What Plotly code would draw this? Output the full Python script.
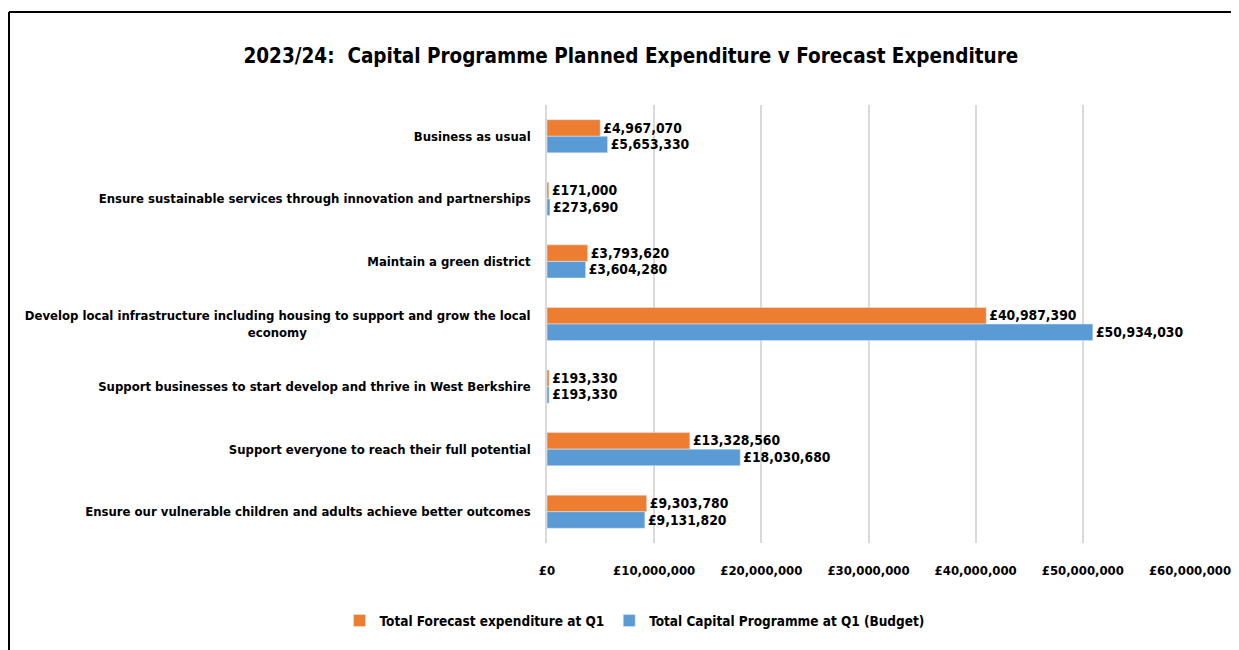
import plotly.graph_objects as go

categories = [
    "Business as usual",
    "Ensure sustainable services through innovation and partnerships",
    "Maintain a green district",
    "Develop local infrastructure including housing to support and grow the local<br>economy"
    + "\u00a0" * 55,
    "Support businesses to start develop and thrive in West Berkshire",
    "Support everyone to reach their full potential",
    "Ensure our vulnerable children and adults achieve better outcomes",
]
forecast = [4967070, 171000, 3793620, 40987390, 193330, 13328560, 9303780]
budget = [5653330, 273690, 3604280, 50934030, 193330, 18030680, 9131820]
series_names = ["Total Forecast expenditure at Q1", "Total Capital Programme at Q1 (Budget)"]
x_ticks = [0, 10000000, 20000000, 30000000, 40000000, 50000000, 60000000]
x_tick_labels = ["£0", "£10,000,000", "£20,000,000", "£30,000,000", "£40,000,000",
                 "£50,000,000", "£60,000,000"]

FONT = "DejaVu Sans Condensed, sans-serif"

fig = go.Figure()
for vals, name, col in [(forecast, series_names[0], "#ED7D31"), (budget, series_names[1], "#5B9BD5")]:
    fig.add_trace(go.Bar(
        y=categories, x=vals, orientation="h", name=name,
        marker_color=col, texttemplate="£%{x:,}", textposition="outside",
        textfont=dict(family=FONT, size=15, color="black", weight="bold"), cliponaxis=False,
    ))

# page body adds an 8px offset; figure sized to fit the window
W, H = 1231, 642
L, T = 539, 97
pw, ph = 643, 438
R, B = W - L - pw, H - T - ph
fx = (1 - L) / pw
fy = (H - B - 4) / ph

fig.update_layout(
    width=W, height=H,
    margin=dict(l=L, r=R, t=T, b=B, autoexpand=False),
    paper_bgcolor="white", plot_bgcolor="white",
    barmode="group", bargap=0.47, bargroupgap=0,
    font=dict(family=FONT, color="black", size=13),
    title=dict(text="<b>2023/24:  Capital Programme Planned Expenditure v Forecast Expenditure</b>",
               x=0.506, xref="container", xanchor="center", y=0.926, yref="container",
               yanchor="middle", font=dict(family=FONT, size=20.5, color="black")),
    legend=dict(orientation="h", x=0.509, xref="container", xanchor="center",
                y=0.0455, yref="container", yanchor="middle",
                font=dict(family=FONT, size=13.5, color="black", weight="bold"), traceorder="normal"),
    showlegend=True,
)
fig.update_xaxes(range=[0, 60000000], tickvals=x_ticks, ticktext=x_tick_labels, automargin=False,
                 showgrid=True, gridcolor="#D9D9D9", gridwidth=1.5, zeroline=False,
                 showline=False, ticks="", ticklabelstandoff=18,
                 tickfont=dict(family=FONT, size=13, color="black", weight="bold"))
fig.update_yaxes(autorange="reversed", showgrid=False, showline=True, linecolor="#D9D9D9",
                 linewidth=1.5, ticks="", ticklabelstandoff=12, automargin=False,
                 tickfont=dict(family=FONT, size=13, color="black", weight="bold"))

fig.add_shape(type="line", xref="paper", yref="paper", x0=fx, x1=1.2, y0=fy, y1=fy,
              line=dict(color="black", width=2))
fig.add_shape(type="line", xref="paper", yref="paper", x0=fx, x1=fx, y0=fy, y1=-0.5,
              line=dict(color="black", width=2))

fig.write_html("out.html")
